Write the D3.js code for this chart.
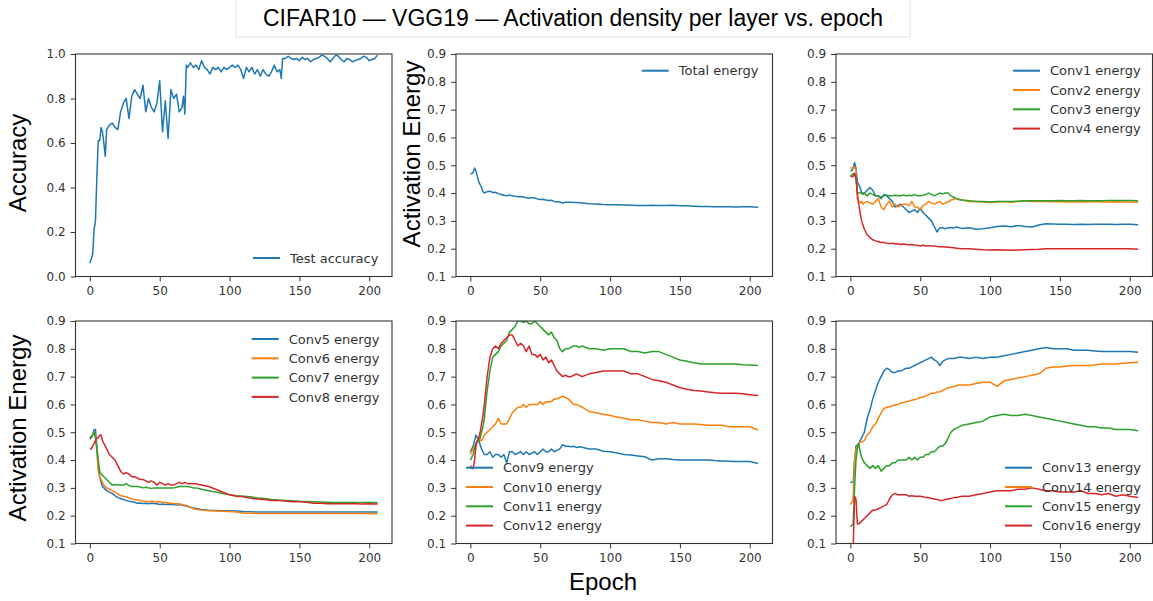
<!DOCTYPE html>
<html>
<head>
<meta charset="utf-8">
<script src="https://cdn.jsdelivr.net/npm/d3@7"></script>
<style>
body { margin: 0; background: #fff; }
.axis text { font-family: "DejaVu Sans", sans-serif; font-size: 12px; fill: #333; }
.axis line { stroke: #333; }
.legend text { font-family: "DejaVu Sans", sans-serif; font-size: 13px; fill: #333; }
.big { font-family: "Liberation Sans", Arial, sans-serif; fill: #000; }
</style>
</head>
<body>
<script>
// shared epochs for the energy curves
var epochs = [0,1,2,3,4,5,6,7,8,9,10,
  12,14,16,18,20,22,24,26,28,30,
  32,34,36,38,40,42,44,46,48,50,
  52,54,56,58,60,62,64,66,68,70,
  72,74,76,78,80,
  85,90,95,100,105,110,115,120,125,130,
  135,140,145,150,155,160,165,170,175,180,
  185,190,195,200,206];

var accEpochs = [0,1,2,3,4,5,6,7,8,9,10,11,12,
  14,16,18,20,22,24,26,28,30,32,34,36,38,40,42,44,46,48,50,52,54,56,58,60,62,64,66,
  67,68,69,
  70,72,74,76,78,80,82,84,86,88,90,92,94,96,98,100,102,104,106,108,110,112,114,116,118,120,122,124,126,128,130,132,134,136,
  137,138,
  140,142,144,146,148,150,152,154,156,158,160,162,164,166,168,170,172,174,176,178,180,182,184,186,188,190,192,194,196,198,200,202,204,206];

var testAccuracy = [0.06,0.08,0.10,0.21,0.25,0.45,0.61,0.61,0.67,0.65,0.60,0.54,0.66,
  0.68,0.69,0.67,0.66,0.74,0.78,0.80,0.71,0.81,0.84,0.82,0.80,0.86,0.74,0.80,0.76,0.74,0.78,0.88,0.65,0.79,0.62,0.84,0.80,0.82,0.74,0.76,
  0.81,0.73,0.95,
  0.94,0.96,0.94,0.95,0.93,0.97,0.94,0.93,0.91,0.94,0.93,0.94,0.92,0.94,0.93,0.94,0.95,0.94,0.95,0.93,0.89,0.94,0.92,0.94,0.91,0.93,0.90,0.93,0.91,0.90,0.92,0.95,0.92,0.93,
  0.89,0.98,
  0.98,0.99,0.98,0.975,0.98,0.97,0.985,0.975,0.98,0.965,0.975,0.98,0.985,0.995,0.99,0.98,0.965,0.98,0.995,0.99,0.975,0.965,0.98,0.975,0.965,0.97,0.975,0.98,0.99,0.985,0.97,0.975,0.98,0.995];

var totalEnergy = [0.468,0.47,0.475,0.49,0.48,0.46,0.44,0.43,0.42,0.405,0.40,
  0.405,0.407,0.402,0.403,0.398,0.395,0.392,0.39,0.393,0.39,
  0.389,0.387,0.388,0.386,0.383,0.381,0.384,0.382,0.379,0.377,
  0.378,0.375,0.373,0.374,0.37,0.369,0.368,0.364,0.367,0.367,
  0.367,0.366,0.366,0.365,0.364,
  0.362,0.361,0.359,0.358,0.358,0.357,0.356,0.355,0.355,0.356,
  0.355,0.355,0.356,0.354,0.354,0.353,0.352,0.352,0.351,0.351,
  0.351,0.350,0.351,0.351,0.349];

var conv1 = [0.48,0.48,0.49,0.51,0.49,0.44,0.43,0.42,0.40,0.40,0.40,
  0.41,0.42,0.41,0.39,0.39,0.38,0.395,0.39,0.38,0.37,
  0.35,0.355,0.36,0.35,0.34,0.33,0.335,0.34,0.33,0.345,
  0.33,0.32,0.31,0.30,0.28,0.26,0.275,0.275,0.272,0.275,
  0.276,0.274,0.278,0.275,0.273,
  0.275,0.27,0.272,0.275,0.28,0.282,0.279,0.283,0.28,0.278,
  0.285,0.29,0.289,0.288,0.288,0.287,0.288,0.287,0.288,0.288,
  0.288,0.287,0.288,0.288,0.286];
var conv2 = [0.49,0.49,0.49,0.495,0.48,0.38,0.37,0.365,0.37,0.36,0.365,
  0.37,0.365,0.36,0.37,0.38,0.35,0.34,0.36,0.37,0.35,
  0.36,0.35,0.355,0.36,0.36,0.355,0.37,0.35,0.35,0.34,
  0.355,0.36,0.37,0.365,0.36,0.365,0.37,0.36,0.365,0.368,
  0.375,0.378,0.38,0.376,0.375,
  0.37,0.37,0.368,0.366,0.368,0.37,0.367,0.37,0.372,0.37,
  0.37,0.37,0.369,0.37,0.368,0.368,0.369,0.368,0.37,0.368,
  0.368,0.369,0.368,0.368,0.367];
var conv3 = [0.46,0.465,0.47,0.47,0.46,0.40,0.40,0.40,0.40,0.395,0.40,
  0.39,0.40,0.395,0.39,0.39,0.385,0.39,0.392,0.39,0.39,
  0.392,0.39,0.39,0.393,0.39,0.392,0.39,0.395,0.39,0.39,
  0.392,0.395,0.40,0.395,0.39,0.395,0.40,0.397,0.40,0.40,
  0.39,0.385,0.38,0.377,0.375,
  0.372,0.37,0.37,0.368,0.37,0.37,0.37,0.371,0.372,0.372,
  0.372,0.372,0.372,0.373,0.372,0.372,0.373,0.372,0.372,0.372,
  0.373,0.373,0.373,0.373,0.372];
var conv4 = [0.46,0.46,0.46,0.47,0.45,0.40,0.36,0.33,0.30,0.285,0.27,
  0.25,0.24,0.232,0.228,0.225,0.222,0.222,0.22,0.218,0.22,
  0.217,0.218,0.215,0.217,0.215,0.214,0.215,0.213,0.212,0.21,
  0.212,0.21,0.211,0.21,0.21,0.208,0.207,0.207,0.206,0.205,
  0.204,0.203,0.202,0.201,0.20,
  0.2,0.198,0.196,0.195,0.196,0.195,0.194,0.195,0.196,0.197,
  0.198,0.2,0.2,0.2,0.2,0.2,0.2,0.2,0.2,0.2,
  0.2,0.2,0.2,0.2,0.198];

var conv5 = [0.475,0.48,0.49,0.51,0.51,0.45,0.38,0.34,0.32,0.305,0.30,
  0.29,0.285,0.28,0.272,0.265,0.262,0.258,0.255,0.252,0.25,
  0.248,0.245,0.246,0.244,0.245,0.243,0.245,0.244,0.243,0.24,
  0.242,0.24,0.241,0.24,0.24,0.238,0.24,0.238,0.236,0.233,
  0.23,0.228,0.226,0.224,0.222,
  0.22,0.219,0.218,0.218,0.217,0.215,0.214,0.213,0.213,0.213,
  0.213,0.213,0.213,0.213,0.213,0.213,0.213,0.213,0.213,0.213,
  0.213,0.213,0.213,0.213,0.213];
var conv6 = [0.48,0.485,0.49,0.50,0.49,0.43,0.36,0.34,0.33,0.32,0.31,
  0.30,0.295,0.29,0.285,0.278,0.272,0.27,0.268,0.264,0.26,
  0.258,0.257,0.255,0.253,0.252,0.25,0.252,0.25,0.249,0.25,
  0.248,0.247,0.246,0.245,0.244,0.243,0.242,0.24,0.238,0.235,
  0.23,0.226,0.223,0.221,0.22,
  0.218,0.217,0.216,0.215,0.213,0.21,0.209,0.208,0.208,0.208,
  0.208,0.208,0.208,0.208,0.208,0.208,0.208,0.208,0.208,0.208,
  0.208,0.208,0.208,0.208,0.207];
var conv7 = [0.48,0.485,0.49,0.50,0.48,0.44,0.40,0.36,0.35,0.345,0.34,
  0.33,0.32,0.31,0.312,0.31,0.31,0.31,0.315,0.308,0.305,
  0.305,0.305,0.303,0.30,0.302,0.30,0.298,0.30,0.30,0.30,
  0.30,0.30,0.30,0.30,0.30,0.302,0.305,0.305,0.305,0.305,
  0.303,0.30,0.30,0.298,0.295,
  0.29,0.285,0.28,0.275,0.272,0.27,0.268,0.264,0.262,0.258,
  0.256,0.255,0.254,0.252,0.251,0.25,0.249,0.248,0.247,0.247,
  0.247,0.247,0.247,0.247,0.247];
var conv8 = [0.44,0.44,0.45,0.46,0.47,0.48,0.48,0.49,0.49,0.47,0.46,
  0.44,0.42,0.41,0.40,0.38,0.36,0.35,0.355,0.35,0.34,
  0.34,0.335,0.33,0.33,0.325,0.32,0.325,0.32,0.31,0.32,
  0.315,0.31,0.315,0.31,0.31,0.315,0.32,0.315,0.32,0.315,
  0.315,0.315,0.315,0.312,0.31,
  0.305,0.295,0.285,0.275,0.27,0.268,0.263,0.26,0.258,0.255,
  0.255,0.253,0.25,0.25,0.248,0.245,0.245,0.243,0.243,0.243,
  0.243,0.243,0.242,0.243,0.242];

var conv9 = [0.43,0.44,0.45,0.47,0.49,0.48,0.47,0.455,0.44,0.43,0.42,
  0.42,0.43,0.41,0.42,0.42,0.41,0.42,0.39,0.43,0.43,
  0.42,0.425,0.43,0.42,0.43,0.42,0.425,0.43,0.42,0.43,
  0.44,0.43,0.43,0.44,0.43,0.435,0.44,0.455,0.45,0.45,
  0.448,0.45,0.445,0.448,0.446,
  0.44,0.44,0.432,0.43,0.425,0.42,0.418,0.415,0.412,0.40,
  0.405,0.405,0.402,0.40,0.40,0.40,0.40,0.40,0.398,0.397,
  0.396,0.395,0.395,0.395,0.388];
var conv10 = [0.42,0.43,0.44,0.45,0.46,0.47,0.48,0.47,0.47,0.48,0.49,
  0.50,0.51,0.52,0.53,0.55,0.53,0.53,0.53,0.55,0.57,
  0.58,0.59,0.59,0.60,0.59,0.60,0.60,0.60,0.60,0.61,
  0.60,0.61,0.61,0.61,0.62,0.62,0.625,0.63,0.625,0.62,
  0.61,0.60,0.60,0.595,0.59,
  0.575,0.57,0.565,0.56,0.555,0.55,0.545,0.545,0.54,0.535,
  0.535,0.53,0.535,0.53,0.53,0.53,0.528,0.525,0.525,0.525,
  0.52,0.52,0.52,0.52,0.508];
var conv11 = [0.40,0.41,0.42,0.44,0.46,0.465,0.47,0.48,0.50,0.52,0.55,
  0.65,0.72,0.77,0.78,0.79,0.81,0.82,0.83,0.86,0.87,
  0.88,0.90,0.90,0.895,0.90,0.89,0.89,0.90,0.89,0.88,
  0.87,0.86,0.85,0.86,0.84,0.83,0.80,0.79,0.80,0.80,
  0.805,0.81,0.81,0.805,0.81,
  0.80,0.80,0.795,0.80,0.80,0.80,0.79,0.79,0.785,0.79,
  0.79,0.78,0.77,0.76,0.755,0.75,0.745,0.745,0.745,0.745,
  0.745,0.745,0.743,0.742,0.74];
var conv12 = [0.38,0.37,0.37,0.40,0.45,0.47,0.48,0.50,0.53,0.56,0.60,
  0.70,0.77,0.80,0.81,0.80,0.82,0.83,0.84,0.85,0.85,
  0.83,0.81,0.82,0.81,0.79,0.81,0.78,0.78,0.77,0.78,
  0.76,0.77,0.75,0.76,0.74,0.72,0.71,0.70,0.705,0.70,
  0.70,0.705,0.71,0.705,0.70,
  0.71,0.715,0.72,0.72,0.72,0.72,0.71,0.71,0.70,0.69,
  0.685,0.68,0.67,0.66,0.655,0.65,0.648,0.645,0.642,0.64,
  0.64,0.64,0.638,0.635,0.632];

var conv13 = [0.32,0.32,0.32,0.40,0.45,0.455,0.46,0.47,0.48,0.49,0.50,
  0.55,0.58,0.62,0.65,0.68,0.70,0.72,0.73,0.725,0.715,
  0.715,0.72,0.72,0.725,0.73,0.73,0.735,0.74,0.745,0.75,
  0.755,0.76,0.765,0.77,0.76,0.755,0.74,0.755,0.76,0.765,
  0.765,0.765,0.768,0.77,0.77,
  0.765,0.77,0.765,0.77,0.77,0.775,0.78,0.785,0.79,0.795,
  0.80,0.805,0.80,0.80,0.80,0.795,0.795,0.795,0.792,0.79,
  0.79,0.79,0.79,0.79,0.788];
var conv14 = [0.24,0.25,0.26,0.40,0.44,0.45,0.46,0.465,0.465,0.468,0.47,
  0.49,0.50,0.52,0.53,0.55,0.57,0.585,0.59,0.592,0.595,
  0.598,0.60,0.605,0.607,0.61,0.612,0.615,0.618,0.62,0.625,
  0.627,0.63,0.635,0.64,0.64,0.645,0.645,0.65,0.655,0.66,
  0.662,0.665,0.667,0.67,0.67,
  0.67,0.675,0.68,0.68,0.665,0.685,0.69,0.695,0.70,0.705,
  0.71,0.73,0.735,0.735,0.738,0.74,0.74,0.74,0.742,0.745,
  0.745,0.745,0.748,0.75,0.752];
var conv15 = [0.16,0.165,0.17,0.30,0.40,0.44,0.46,0.43,0.41,0.40,0.39,
  0.38,0.37,0.38,0.37,0.38,0.36,0.37,0.38,0.38,0.39,
  0.39,0.40,0.40,0.40,0.40,0.41,0.40,0.41,0.40,0.41,
  0.41,0.42,0.42,0.43,0.43,0.44,0.45,0.45,0.46,0.48,
  0.50,0.51,0.515,0.52,0.525,
  0.53,0.535,0.54,0.555,0.56,0.565,0.56,0.56,0.565,0.56,
  0.555,0.55,0.545,0.54,0.535,0.53,0.525,0.52,0.52,0.515,
  0.515,0.51,0.51,0.51,0.505];
var conv16 = [0.05,0.06,0.08,0.27,0.26,0.17,0.17,0.175,0.18,0.185,0.19,
  0.20,0.21,0.22,0.22,0.225,0.23,0.235,0.24,0.26,0.275,
  0.28,0.275,0.275,0.275,0.275,0.27,0.272,0.27,0.27,0.27,
  0.268,0.265,0.265,0.262,0.26,0.258,0.255,0.255,0.258,0.26,
  0.262,0.265,0.265,0.268,0.27,
  0.27,0.275,0.28,0.285,0.29,0.29,0.29,0.295,0.295,0.30,
  0.295,0.29,0.29,0.285,0.285,0.285,0.29,0.28,0.28,0.275,
  0.28,0.27,0.275,0.27,0.265];

var xTicks = [0, 50, 100, 150, 200];
var accTicks = [0.0, 0.2, 0.4, 0.6, 0.8, 1.0];
var energyTicks = [0.1, 0.2, 0.3, 0.4, 0.5, 0.6, 0.7, 0.8, 0.9];
var colors = ["#1f77b4", "#ff7f0e", "#2ca02c", "#d62728"];

var panelW = 316.5, panelH = 222.5;

var panels = [
  {left: 75.5, top: 54, yDomain: [0, 1], yTicks: accTicks, xs: [accEpochs],
   ys: [testAccuracy], names: ["Test accuracy"], legend: [177.5, 204]},
  {left: 456, top: 54, yDomain: [0.1, 0.9], yTicks: energyTicks, xs: [epochs],
   ys: [totalEnergy], names: ["Total energy"], legend: [185.7, 16.7]},
  {left: 836, top: 54, yDomain: [0.1, 0.9], yTicks: energyTicks, xs: [epochs, epochs, epochs, epochs],
   ys: [conv1, conv2, conv3, conv4], names: ["Conv1 energy", "Conv2 energy", "Conv3 energy", "Conv4 energy"], legend: [177, 16.7]},
  {left: 75.5, top: 321, yDomain: [0.1, 0.9], yTicks: energyTicks, xs: [epochs, epochs, epochs, epochs],
   ys: [conv5, conv6, conv7, conv8], names: ["Conv5 energy", "Conv6 energy", "Conv7 energy", "Conv8 energy"], legend: [176.2, 18]},
  {left: 456, top: 321, yDomain: [0.1, 0.9], yTicks: energyTicks, xs: [epochs, epochs, epochs, epochs],
   ys: [conv9, conv10, conv11, conv12], names: ["Conv9 energy", "Conv10 energy", "Conv11 energy", "Conv12 energy"], legend: [10, 146.7]},
  {left: 836, top: 321, yDomain: [0.1, 0.9], yTicks: energyTicks, xs: [epochs, epochs, epochs, epochs],
   ys: [conv13, conv14, conv15, conv16], names: ["Conv13 energy", "Conv14 energy", "Conv15 energy", "Conv16 energy"], legend: [169, 146.7]}
];

var svg = d3.select("body").append("svg")
    .attr("width", 1153)
    .attr("height", 601);

// title box
svg.append("rect")
    .attr("x", 236).attr("y", -1)
    .attr("width", 674).attr("height", 38)
    .attr("fill", "#fff")
    .attr("stroke", "#e3e3e3");
svg.append("text")
    .attr("class", "big")
    .attr("x", 573).attr("y", 26)
    .attr("text-anchor", "middle")
    .style("font-size", "23px")
    .text("CIFAR10 \u2014 VGG19 \u2014 Activation density per layer vs. epoch");

panels.forEach(function(p, i) {
  var x = d3.scaleLinear().domain([-10.3, 216.3]).range([0, panelW]);
  var y = d3.scaleLinear().domain(p.yDomain).range([panelH, 0]);

  var g = svg.append("g").attr("transform", "translate(" + p.left + "," + p.top + ")");

  g.append("clipPath").attr("id", "clip" + i)
    .append("rect").attr("width", panelW).attr("height", panelH);

  p.ys.forEach(function(vals, k) {
    var line = d3.line()
        .x(function(d, j) { return x(p.xs[k][j]); })
        .y(function(d) { return y(d); });
    g.append("path")
        .attr("clip-path", "url(#clip" + i + ")")
        .attr("fill", "none")
        .attr("stroke", colors[k])
        .attr("stroke-width", 1.5)
        .attr("stroke-linejoin", "round")
        .attr("d", line(vals));
  });

  var xAxis = g.append("g")
      .attr("class", "axis")
      .attr("transform", "translate(0," + panelH + ")")
      .call(d3.axisBottom(x).tickValues(xTicks).tickSize(4.9).tickPadding(4.9));
  xAxis.select(".domain").remove();

  var yAxis = g.append("g")
      .attr("class", "axis")
      .call(d3.axisLeft(y).tickValues(p.yTicks).tickFormat(d3.format(".1f")).tickSize(4.9).tickPadding(4.9));
  yAxis.select(".domain").remove();

  // frame
  g.append("rect")
      .attr("width", panelW).attr("height", panelH)
      .attr("fill", "none")
      .attr("stroke", "#333")
      .attr("stroke-width", 1.1);

  var leg = g.append("g").attr("class", "legend")
      .attr("transform", "translate(" + p.legend[0] + "," + p.legend[1] + ")");
  p.names.forEach(function(name, k) {
    var row = leg.append("g").attr("transform", "translate(0," + (k * 19.3) + ")");
    row.append("line")
        .attr("x1", 0).attr("x2", 27)
        .attr("stroke", colors[k])
        .attr("stroke-width", 2);
    row.append("text")
        .attr("x", 37)
        .attr("dy", "0.36em")
        .text(name);
  });
});

// axis titles
svg.append("text").attr("class", "big")
    .attr("transform", "translate(26,163) rotate(-90)")
    .attr("text-anchor", "middle")
    .style("font-size", "24px")
    .text("Accuracy");
svg.append("text").attr("class", "big")
    .attr("transform", "translate(420,154) rotate(-90)")
    .attr("text-anchor", "middle")
    .style("font-size", "24px")
    .text("Activation Energy");
svg.append("text").attr("class", "big")
    .attr("transform", "translate(26,428) rotate(-90)")
    .attr("text-anchor", "middle")
    .style("font-size", "24px")
    .text("Activation Energy");
svg.append("text").attr("class", "big")
    .attr("x", 603).attr("y", 590)
    .attr("text-anchor", "middle")
    .style("font-size", "24px")
    .text("Epoch");
</script>
</body>
</html>
